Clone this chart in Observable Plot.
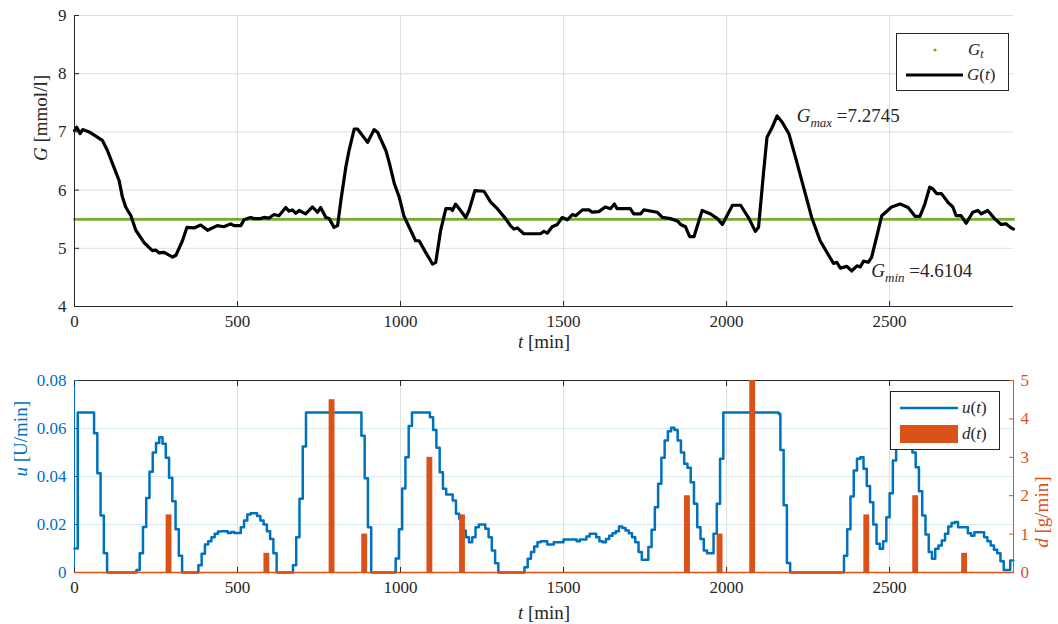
<!DOCTYPE html>
<html><head><meta charset="utf-8">
<script src="https://cdn.jsdelivr.net/npm/d3@7"></script>
<script src="https://cdn.jsdelivr.net/npm/@observablehq/plot@0.6"></script>
<style>
body{margin:0;background:#fff;}
#wrap{position:relative;width:1058px;height:624px;font-family:"Liberation Serif",serif;color:#262626;}
#wrap svg text{font-family:"Liberation Serif",serif !important;}
.layer{position:absolute;left:0;}
.legend{position:absolute;background:#fff;border:1px solid #262626;box-sizing:border-box;font-size:17px;}
.legend .row{position:absolute;left:0;right:0;height:22px;}
.legend .lab{position:absolute;top:0;line-height:22px;}
.legend sub{font-size:12px;vertical-align:-3px;line-height:0;}
</style></head><body><div id="wrap"></div>
<script>
// ---- data ----
const tG = [0,7,17,25,45,70,86,101,121,137,147,157,173,188,213,239,249,260,275,301,311,331,345,367,387,408,438,458,479,489,510,520,540,551,571,581,597,612,627,648,658,668,679,689,709,730,745,755,771,781,796,807,817,832,842,858,868,899,919,930,955,965,981,996,1010,1031,1046,1057,1077,1098,1108,1123,1139,1154,1159,1169,1180,1200,1210,1228,1256,1277,1297,1322,1337,1348,1358,1378,1429,1440,1450,1465,1481,1496,1512,1527,1537,1558,1578,1588,1608,1628,1644,1656,1664,1705,1715,1736,1746,1787,1803,1828,1849,1859,1874,1887,1900,1925,1951,1972,1987,2018,2043,2069,2088,2098,2114,2124,2140,2155,2170,2191,2211,2236,2261,2287,2313,2328,2338,2349,2369,2384,2400,2410,2420,2435,2445,2460,2476,2506,2532,2557,2578,2593,2608,2623,2633,2644,2659,2679,2694,2704,2719,2735,2755,2771,2781,2801,2822,2842,2857,2873,2880];
const G = [7.02,7.08,6.97,7.04,7.0,6.91,6.85,6.68,6.39,6.16,5.88,5.71,5.56,5.31,5.10,4.96,4.97,4.92,4.93,4.85,4.88,5.13,5.36,5.35,5.40,5.31,5.39,5.37,5.42,5.39,5.39,5.49,5.53,5.51,5.51,5.53,5.52,5.58,5.56,5.70,5.64,5.66,5.60,5.65,5.59,5.71,5.62,5.70,5.53,5.51,5.36,5.39,5.82,6.39,6.68,7.05,7.05,6.82,7.04,6.99,6.68,6.48,6.11,5.88,5.56,5.31,5.13,5.13,4.93,4.73,4.76,5.31,5.68,5.68,5.65,5.76,5.68,5.53,5.65,5.99,5.98,5.79,5.68,5.51,5.39,5.33,5.35,5.25,5.25,5.29,5.26,5.37,5.41,5.53,5.49,5.58,5.56,5.66,5.66,5.62,5.63,5.71,5.68,5.76,5.68,5.68,5.59,5.59,5.66,5.62,5.53,5.51,5.47,5.41,5.37,5.20,5.20,5.65,5.59,5.51,5.41,5.74,5.74,5.51,5.29,5.36,6.34,6.91,7.08,7.2745,7.17,6.97,6.57,6.05,5.53,5.13,4.88,4.74,4.76,4.66,4.69,4.6104,4.70,4.68,4.78,4.76,4.85,5.19,5.56,5.71,5.76,5.70,5.55,5.55,5.76,6.05,6.02,5.94,5.94,5.79,5.71,5.56,5.56,5.43,5.62,5.65,5.59,5.65,5.51,5.41,5.42,5.35,5.33];
const GtValue = 5.5;
const tGt = d3.range(0, 2881, 5);
const tU = [0,10,60,70,80,90,100,190,200,210,220,230,240,250,260,270,280,290,300,310,320,330,380,390,400,410,420,430,440,450,470,480,490,510,520,530,540,560,570,580,590,600,610,620,670,680,690,700,710,880,890,900,910,985,995,1005,1015,1025,1035,1090,1100,1110,1120,1130,1140,1160,1170,1180,1190,1200,1210,1220,1230,1240,1260,1270,1280,1290,1300,1380,1390,1400,1410,1420,1430,1450,1470,1500,1540,1550,1570,1580,1600,1610,1620,1630,1640,1650,1660,1670,1680,1690,1700,1710,1720,1730,1740,1760,1770,1780,1790,1800,1810,1820,1830,1840,1850,1860,1870,1880,1890,1900,1910,1920,1930,1940,1960,1970,1980,1990,2160,2165,2175,2185,2195,2360,2370,2380,2390,2400,2410,2420,2430,2440,2450,2460,2470,2480,2490,2500,2510,2520,2530,2540,2550,2560,2570,2580,2590,2600,2610,2620,2630,2640,2650,2660,2670,2680,2690,2700,2710,2740,2750,2760,2790,2800,2810,2820,2830,2840,2850,2870,2880];
const U = [0.010,0.0667,0.058,0.0414,0.0238,0.008,0,0.001,0.008,0.019,0.031,0.042,0.050,0.054,0.0564,0.0536,0.0478,0.0395,0.0297,0.018,0.007,0,0.003,0.0078,0.0117,0.013,0.0147,0.0161,0.0171,0.0172,0.0165,0.0169,0.0165,0.0189,0.0217,0.0242,0.0247,0.0235,0.0217,0.0200,0.0172,0.014,0.008,0,0.003,0.0147,0.0307,0.0525,0.0667,0.057,0.0393,0.0189,0,0.0058,0.018,0.035,0.048,0.061,0.0667,0.0647,0.0594,0.052,0.0418,0.0349,0.0325,0.030,0.0245,0.0224,0.0175,0.0147,0.0126,0.0147,0.0189,0.020,0.0182,0.0147,0.0092,0.0039,0,0.0022,0.0057,0.0085,0.0108,0.0126,0.013,0.0117,0.0126,0.0137,0.013,0.0138,0.015,0.0161,0.0147,0.013,0.0126,0.014,0.0153,0.0164,0.0172,0.0192,0.0185,0.0175,0.0164,0.0147,0.0126,0.0085,0.0053,0.0106,0.0178,0.0272,0.037,0.0478,0.055,0.0589,0.0603,0.0594,0.055,0.050,0.0453,0.0436,0.0376,0.0286,0.0189,0.014,0.0092,0.008,0.0161,0.0286,0.0474,0.0667,0.066,0.051,0.028,0.004,0,0.007,0.018,0.0317,0.0425,0.0474,0.048,0.0432,0.036,0.0293,0.020,0.012,0.0099,0.013,0.023,0.033,0.0467,0.055,0.060,0.062,0.060,0.055,0.050,0.0439,0.0339,0.0238,0.0158,0.0085,0.0057,0.0099,0.0113,0.0133,0.0161,0.0192,0.0206,0.021,0.0189,0.0164,0.0153,0.0168,0.0147,0.013,0.0113,0.0095,0.008,0.0047,0.001,0.005,0.005];
const tD = [290,590,790,890,1090,1190,1880,1980,2080,2430,2580,2730];
const D = [1.5,0.5,4.5,1,3,1.5,2,1,5,1.5,2,0.5];
const xTicks = [0,500,1000,1500,2000,2500];
const gTicks = [4,5,6,7,8,9];
const uTicks = [0,0.02,0.04,0.06,0.08];
const dTicks = [0,1,2,3,4,5];
const tGmax = 2155, Gmax = 7.2745, tGmin = 2384, Gmin = 4.6104;

// ---- helpers ----
const FONT = "Liberation Serif, serif";
const AX = "#262626", BLUE = "#0072BD", ORANGE = "#D95319", GREEN = "#77AC30";
const rich = {
  "G [mmol/l]": [["G",1],[" [mmol/l]"]],
  "t [min]": [["t",1],[" [min]"]],
  "u [U/min]": [["u",1],[" [U/min]"]],
  "d [g/min]": [["d",1],[" [g/min]"]],
  "Gmax =7.2745": [["G",1],["max",1,1],[" =7.2745"]],
  "Gmin =4.6104": [["G",1],["min",1,1],[" =4.6104"]]
};
function richify(svg){
  svg.querySelectorAll("text").forEach(el=>{
    el.style.fontFamily = "'Liberation Serif', serif";
    const k = el.textContent;
    if(!(k in rich)) return;
    el.textContent = "";
    let shifted = false;
    for(const [s,it,sub] of rich[k]){
      const ts = document.createElementNS("http://www.w3.org/2000/svg","tspan");
      ts.textContent = s;
      if(it) ts.setAttribute("font-style","italic");
      if(sub){ ts.setAttribute("font-size","13"); ts.setAttribute("dy","5"); shifted = true; }
      else if(shifted){ ts.setAttribute("dy","-5"); shifted = false; }
      el.appendChild(ts);
    }
  });
}
const W = 1058, ML = 74, MR = 45;
const wrap = document.getElementById("wrap");
function place(svg, top){ svg.classList.add("layer"); svg.style.top = top+"px"; wrap.appendChild(svg); richify(svg); }
const baseStyle = {fontFamily: FONT, fontSize: "17px", color: AX, background: "transparent", overflow: "visible"};
const fmt = d => String(d);
const axisText = {fontFamily: FONT, fontSize: 17};

// ---- top plot ----
const gData = tG.map((t,i)=>({t, g: G[i]}));
const topPlot = Plot.plot({
  width: W, height: 345, marginLeft: ML, marginRight: MR, marginTop: 15, marginBottom: 39,
  style: baseStyle,
  x: {domain: [0, 2880]},
  y: {domain: [4, 9]},
  marks: [
    Plot.gridX(xTicks, {stroke: "#dedede", strokeOpacity: 1}),
    Plot.gridY(gTicks, {stroke: "#dedede", strokeOpacity: 1}),
    Plot.dot(tGt, {x: d=>d, y: ()=>GtValue, r: 1.5, fill: GREEN, stroke: null}),
    Plot.line(gData, {x: "t", y: "g", stroke: "#000", strokeWidth: 3.2, strokeLinejoin: "round"}),
    Plot.ruleX([0], {stroke: AX}),
    Plot.ruleY([4], {stroke: AX}),
    Plot.axisX(xTicks, {tickSize: -5, tickPadding: 13, label: null, color: AX, tickFormat: fmt, ...axisText}),
    Plot.axisY(gTicks, {tickSize: -5, tickPadding: 13, label: null, color: AX, tickFormat: fmt, ...axisText}),
    Plot.text(["G [mmol/l]"], {frameAnchor: "left", dx: -34, rotate: -90, fontSize: 19, fill: AX, fontFamily: FONT}),
    Plot.text(["t [min]"], {frameAnchor: "bottom", dy: 41, fontSize: 19, fill: AX, fontFamily: FONT}),
    Plot.text(["Gmax =7.2745"], {x: ()=>tGmax+60, y: ()=>Gmax, textAnchor: "start", fontSize: 19, fill: AX, fontFamily: FONT}),
    Plot.text(["Gmin =4.6104"], {x: ()=>tGmin+60, y: ()=>Gmin, textAnchor: "start", fontSize: 19, fill: AX, fontFamily: FONT})
  ]
});
place(topPlot, 0);

// ---- bottom plot: u(t) ----
const uData = tU.map((t,i)=>({t, u: U[i]}));
const botU = Plot.plot({
  width: W, height: 279, marginLeft: ML, marginRight: MR, marginTop: 35, marginBottom: 52,
  style: baseStyle,
  x: {domain: [0, 2880]},
  y: {domain: [0, 0.08]},
  marks: [
    Plot.gridX(xTicks, {stroke: "#dedede", strokeOpacity: 1}),
    Plot.gridY(uTicks, {stroke: "#D9EAF5", strokeOpacity: 1}),
    Plot.line(uData, {x: "t", y: "u", curve: "step-after", stroke: BLUE, strokeWidth: 2.5}),
    Plot.ruleY([0.08], {stroke: AX}),
    Plot.ruleY([0], {stroke: AX}),
    Plot.ruleX([0], {stroke: BLUE}),
    Plot.axisX(xTicks, {tickSize: -5, tickPadding: 13, label: null, color: AX, tickFormat: fmt, ...axisText}),
    Plot.axisX(xTicks, {anchor: "top", tickSize: -5, tickFormat: () => "", label: null, color: AX}),
    Plot.axisY(uTicks, {tickSize: -5, tickPadding: 13, label: null, color: BLUE, tickFormat: d => d === 0 ? "0" : d.toFixed(2), ...axisText}),
    Plot.text(["u [U/min]"], {frameAnchor: "left", dx: -54, rotate: -90, fontSize: 19, fill: BLUE, fontFamily: FONT}),
    Plot.text(["t [min]"], {frameAnchor: "bottom", dy: 46, fontSize: 19, fill: AX, fontFamily: FONT})
  ]
});
place(botU, 345);

// ---- bottom plot: d(t) overlay ----
const dData = tD.map((t,i)=>({t, d: D[i]}));
const botD = Plot.plot({
  width: W, height: 279, marginLeft: ML, marginRight: MR, marginTop: 35, marginBottom: 52,
  style: baseStyle,
  x: {domain: [0, 2880], axis: null},
  y: {domain: [0, 5], axis: null},
  marks: [
    Plot.rectY(dData, {x1: d=>d.t-9, x2: d=>d.t+9, y: "d", fill: ORANGE}),
    Plot.ruleY([0], {stroke: ORANGE, strokeWidth: 1.5}),
    Plot.ruleX([2880], {stroke: ORANGE}),
    Plot.axisY(dTicks, {anchor: "right", tickSize: -5, tickPadding: 12, label: null, color: ORANGE, tickFormat: fmt, ...axisText}),
    Plot.text(["d [g/min]"], {frameAnchor: "right", dx: 28, rotate: -90, fontSize: 19, fill: ORANGE, fontFamily: FONT})
  ]
});
place(botD, 345);

// ---- legends ----
const lg1 = document.createElement("div");
lg1.className = "legend";
Object.assign(lg1.style, {left: "896px", top: "33px", width: "113px", height: "58px"});
lg1.innerHTML = `
 <div class="row" style="top:5px"><svg width="70" height="22" style="position:absolute;left:0"><circle cx="38" cy="11" r="1.6" fill="${GREEN}"/></svg><span class="lab" style="left:71px"><i>G</i><sub><i>t</i></sub></span></div>
 <div class="row" style="top:30px"><svg width="70" height="22" style="position:absolute;left:0"><line x1="9" x2="66" y1="11" y2="11" stroke="#000" stroke-width="3"/></svg><span class="lab" style="left:70px"><i>G</i>(<i>t</i>)</span></div>`;
wrap.appendChild(lg1);
const lg2 = document.createElement("div");
lg2.className = "legend";
Object.assign(lg2.style, {left: "890px", top: "391px", width: "110px", height: "59px"});
lg2.innerHTML = `
 <div class="row" style="top:5px"><svg width="70" height="22" style="position:absolute;left:0"><line x1="9" x2="67" y1="11" y2="11" stroke="${BLUE}" stroke-width="2.5"/></svg><span class="lab" style="left:71px"><i>u</i>(<i>t</i>)</span></div>
 <div class="row" style="top:31px"><svg width="70" height="22" style="position:absolute;left:0"><rect x="9" y="2" width="58" height="18" fill="${ORANGE}"/></svg><span class="lab" style="left:71px"><i>d</i>(<i>t</i>)</span></div>`;
wrap.appendChild(lg2);
</script></body></html>
